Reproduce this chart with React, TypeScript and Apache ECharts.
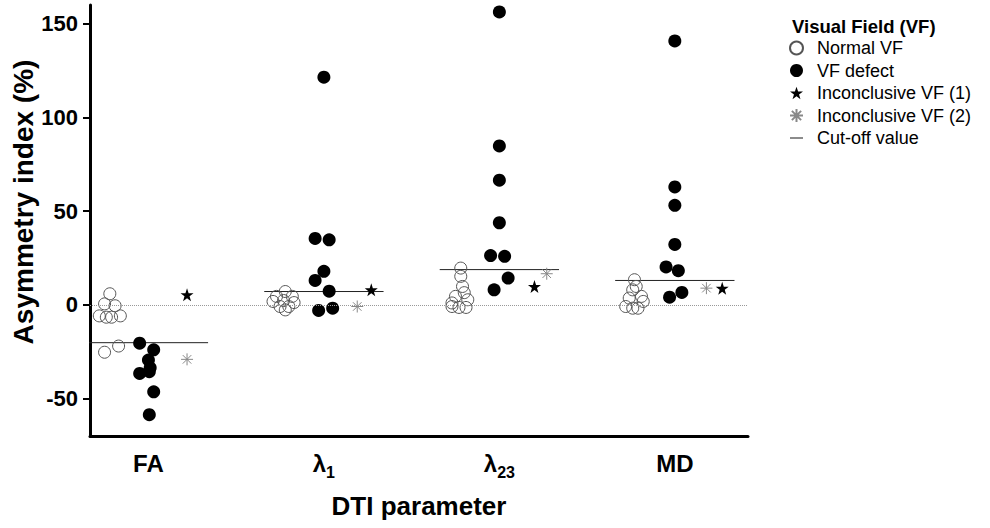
import React, { useEffect, useRef } from "react";
import * as echarts from "echarts";

// ---- data ----
const categories = ["FA", "λ1", "λ23", "MD"];
const categoryLabels = ["{m|FA}", "{m|λ}{s|1}", "{m|λ}{s|23}", "{m|MD}"];

const normalVF: number[][] = [
  [5.9, 0.5, -0.5, -5.9, -6.6, -6.6, -5.9, -22, -25.3],
  [7.1, 4.5, 4.5, 1.8, 2.3, 1.2, -0.9, -2.7, -0.9],
  [19.6, 15.2, 9.8, 6.5, 4.5, 2.7, 1.0, -0.9, -1.4, -1.4],
  [13.4, 9.8, 8.0, 4.5, 3.6, 1.8, -0.9, -1.8, -1.8],
];
const normalJitter: number[][] = [
  [-0.22, -0.25, -0.19, -0.28, -0.24, -0.21, -0.16, -0.17, -0.25],
  [-0.22, -0.27, -0.18, -0.29, -0.23, -0.17, -0.25, -0.22, -0.2],
  [-0.22, -0.22, -0.21, -0.2, -0.25, -0.18, -0.27, -0.27, -0.23, -0.19],
  [-0.23, -0.22, -0.24, -0.19, -0.26, -0.18, -0.28, -0.24, -0.21],
];

const defectVF: number[][] = [
  [-20.5, -24, -29.5, -33.6, -36.6, -35.7, -46.4, -58.6],
  [121.5, 35.4, 34.7, 17.9, 13.0, 7.3, -3.0, -1.8],
  [156.3, 84.8, 66.5, 43.8, 26.3, 25.9, 14.3, 8.0],
  [140.8, 62.9, 53.1, 32.2, 20.2, 18.2, 6.6, 4.1],
];
const defectJitter: number[][] = [
  [-0.05, 0.03, 0, 0.01, -0.05, 0.005, 0.03, 0.005],
  [0, -0.05, 0.03, 0, -0.05, 0.03, -0.03, 0.05],
  [0, 0, 0, 0, -0.05, 0.03, 0.05, -0.03],
  [0, 0, 0, 0, -0.05, 0.02, 0.04, -0.03],
];

const inconclusive1 = [5.4, 8.0, 9.8, 8.9];
const inconclusive1Jitter = [0.22, 0.27, 0.2, 0.27];
const inconclusive2 = [-29.1, -0.9, 16.6, 8.9];
const inconclusive2Jitter = [0.22, 0.19, 0.27, 0.18];

const cutOff = [-20.2, 7.1, 18.8, 13.0];

const yTicks = [-50, 0, 50, 100, 150];

const STAR =
  "path://M50,0 L61.8,35.1 L98.1,35.1 L68.8,56.7 L79.4,91 L50,70 L20.6,91 L31.2,56.7 L1.9,35.1 L38.2,35.1 Z";
const ASTERISK =
  "path://M10,0 L10,20 M0,10 L20,10 M2.9,2.9 L17.1,17.1 M2.9,17.1 L17.1,2.9";
const DASH = "path://M0,0 L20,0 L20,1.6 L0,1.6 Z";

const FONT = "'Liberation Sans', Arial, sans-serif";

function points(values: number[][], jitter: number[][]) {
  const out: number[][] = [];
  values.forEach((arr, i) =>
    arr.forEach((v, j) => out.push([i + 1 + jitter[i][j], v]))
  );
  return out;
}

export default function App() {
  const ref = useRef<HTMLDivElement>(null);
  useEffect(() => {
    if (!ref.current) return;
    const chart = echarts.init(ref.current, undefined, { renderer: "svg" });

    const cutSeries = cutOff.map((c, i) => ({
      name: "Cut-off value",
      type: "line",
      data: [
        [i + 1 - 0.34, c],
        [i + 1 + 0.34, c],
      ],
      symbol: "none",
      color: "#222",
      lineStyle: { color: "#222", width: 1 },
      z: 1,
      silent: true,
    }));

    chart.setOption({
      animation: false,
      backgroundColor: "#fff",
      textStyle: { fontFamily: FONT },
      grid: { left: 90, right: 242, top: 5, bottom: 92 },
      xAxis: {
        type: "value",
        min: 0.667,
        max: 4.417,
        name: "DTI parameter",
        nameLocation: "middle",
        nameGap: 57,
        nameTextStyle: { fontSize: 26, fontWeight: "bold", color: "#000", fontFamily: FONT },
        axisLine: { onZero: false, lineStyle: { color: "#000", width: 3 } },
        axisTick: { show: false },
        splitLine: { show: false },
        axisLabel: {
          customValues: [1, 2, 3, 4],
          margin: 13,
          formatter: (v: number) => categoryLabels[Math.round(v) - 1] ?? "",
          rich: {
            m: { fontSize: 24, fontWeight: "bold", color: "#000", fontFamily: FONT, lineHeight: 28 },
            s: {
              fontSize: 16,
              fontWeight: "bold",
              color: "#000",
              fontFamily: FONT,
              lineHeight: 16,
              verticalAlign: "bottom",
              padding: [0, 0, -3, 0],
            },
          },
        },
      },
      yAxis: {
        type: "value",
        min: -70,
        max: 160,
        axisLine: { show: true, onZero: false, lineStyle: { color: "#000", width: 3 } },
        axisTick: { show: true, customValues: yTicks, length: 7, lineStyle: { width: 2, color: "#000" } },
        splitLine: { show: false },
        axisLabel: {
          customValues: yTicks,
          margin: 12,
          fontSize: 22,
          fontWeight: "bold",
          color: "#000",
          fontFamily: FONT,
        },
      },
      legend: {
        orient: "vertical",
        left: 784,
        top: 34,
        itemWidth: 13,
        itemHeight: 13,
        itemGap: 4.5,
        textStyle: { fontSize: 18, lineHeight: 18, color: "#000", fontFamily: FONT, padding: [0, 0, 0, 9] },
        data: [
          "Normal VF",
          "VF defect",
          "Inconclusive VF (1)",
          "Inconclusive VF (2)",
          { name: "Cut-off value", icon: DASH },
        ],
      },
      graphic: [
        {
          type: "text",
          x: 23,
          y: 202,
          rotation: Math.PI / 2,
          style: {
            text: "Asymmetry index (%)",
            font: `bold 28px ${FONT}`,
            fill: "#000",
            align: "center",
            verticalAlign: "middle",
          },
        },
        {
          type: "text",
          x: 792,
          y: 26,
          style: {
            text: "Visual Field (VF)",
            font: `bold 18.5px ${FONT}`,
            fill: "#000",
            align: "left",
            verticalAlign: "middle",
          },
        },
      ],
      series: [
        {
          name: "Normal VF",
          type: "scatter",
          symbol: "circle",
          symbolSize: 12,
          itemStyle: { color: "rgba(255,255,255,0)", borderColor: "#555", borderWidth: 1, opacity: 1 },
          data: points(normalVF, normalJitter),
          z: 3,
          markLine: {
            silent: true,
            symbol: "none",
            label: { show: false },
            lineStyle: { type: "dotted", color: "#999", width: 1 },
            data: [{ yAxis: 0 }],
          },
        },
        {
          name: "VF defect",
          type: "scatter",
          symbol: "circle",
          symbolSize: 13,
          itemStyle: { color: "#000", opacity: 1 },
          data: points(defectVF, defectJitter),
          z: 4,
        },
        {
          name: "Inconclusive VF (1)",
          type: "scatter",
          symbol: STAR,
          symbolSize: 13,
          itemStyle: { color: "#000", opacity: 1 },
          data: inconclusive1.map((v, i) => [i + 1 + inconclusive1Jitter[i], v]),
          z: 4,
        },
        {
          name: "Inconclusive VF (2)",
          type: "scatter",
          symbol: ASTERISK,
          symbolSize: 12,
          itemStyle: { color: "#888", borderColor: "#888", borderWidth: 1, opacity: 1 },
          data: inconclusive2.map((v, i) => [i + 1 + inconclusive2Jitter[i], v]),
          z: 4,
        },
        ...cutSeries,
      ],
    });
    return () => chart.dispose();
  }, []);
  return (
    <div
      ref={ref}
      style={{ position: "fixed", left: 0, top: 0, width: 990, height: 528 }}
    />
  );
}
